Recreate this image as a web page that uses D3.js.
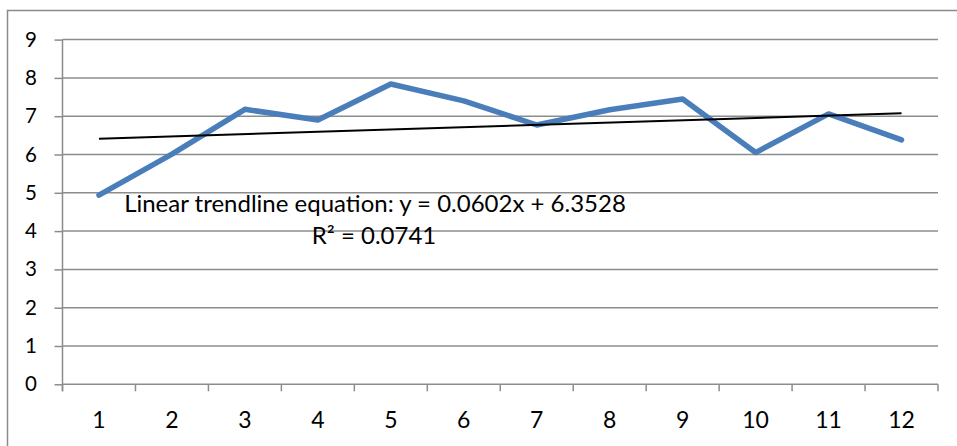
<!DOCTYPE html>
<html>
<head>
<meta charset="utf-8">
<script src="https://cdn.jsdelivr.net/npm/d3@7"></script>
<style>
body{margin:0;background:#fff;}
svg{display:block;font-family:Lato,"Open Sans",sans-serif;}
</style>
</head>
<body>
<div id="chart"></div>
<script>
// values
var categories=[1,2,3,4,5,6,7,8,9,10,11,12];
var values=[4.94,6.01,7.18,6.9,7.84,7.4,6.77,7.17,7.45,6.05,7.06,6.38];
var yTicks=[0,1,2,3,4,5,6,7,8,9];
var slope=0.0602,intercept=6.3528,rSquared=0.0741;

var W=957,H=446;
var margin={top:39.6,right:19,bottom:61.7,left:62.5};

var svg=d3.select("#chart").append("svg")
.attr("width",W).attr("height",H);

// outer frame (only top and left visible)
svg.append("path")
.attr("d","M7.5,"+H+"V10.5H"+W)
.attr("fill","none").attr("stroke","#8a8a8a").attr("stroke-width",1.5);

var x=d3.scaleBand().domain(categories).range([margin.left,W-margin.right]);
var y=d3.scaleLinear().domain([0,9]).range([H-margin.bottom,margin.top]);

// gridlines
svg.append("g").selectAll("line").data(yTicks.filter(function(d){return d>0;})).enter()
.append("line")
.attr("x1",margin.left).attr("x2",W-margin.right)
.attr("y1",function(d){return y(d);}).attr("y2",function(d){return y(d);})
.attr("stroke","#8c8c8c").attr("stroke-width",1.5);

// y axis
var yAxis=svg.append("g")
.attr("transform","translate("+margin.left+",0)")
.call(d3.axisLeft(y).tickValues(yTicks).tickSize(8).tickPadding(17.5).tickFormat(d3.format("d")));
// x axis (ticks at band edges)
var xAxis=svg.append("g")
.attr("transform","translate(0,"+y(0)+")")
.call(d3.axisBottom(x).tickSize(0).tickPadding(27.5));
var edges=categories.map(function(d){return x(d);}).concat([x(12)+x.bandwidth()]);
xAxis.selectAll(".edge").data(edges).enter()
.append("line").attr("class","edge")
.attr("x1",function(d){return d;}).attr("x2",function(d){return d;})
.attr("y1",0).attr("y2",7);

[yAxis,xAxis].forEach(function(a){
a.select(".domain").remove();
a.selectAll("line").attr("stroke","#8c8c8c").attr("stroke-width",1.5);
a.selectAll("text").attr("fill","#000").style("font-family","Lato");
});
yAxis.selectAll("text").style("font-size","20.5px");
xAxis.selectAll("text").style("font-size","23px");

svg.append("line")
.attr("x1",margin.left).attr("x2",margin.left)
.attr("y1",margin.top).attr("y2",y(0)+7)
.attr("stroke","#8c8c8c").attr("stroke-width",1.5);
svg.append("line")
.attr("x1",margin.left).attr("x2",W-margin.right)
.attr("y1",y(0)).attr("y2",y(0))
.attr("stroke","#8c8c8c").attr("stroke-width",1.5);

var cx=function(d){return x(d)+x.bandwidth()/2;};

// series line
svg.append("path")
.datum(values)
.attr("fill","none").attr("stroke","#4a7ebb").attr("stroke-width",5.5)
.attr("stroke-linejoin","round").attr("stroke-linecap","round")
.attr("d",d3.line()
.x(function(d,i){return cx(categories[i]);})
.y(function(d){return y(d);}));

// linear trendline
svg.append("path")
.datum([categories[0],categories[categories.length-1]])
.attr("fill","none").attr("stroke","#000").attr("stroke-width",2)
.attr("d",d3.line()
.x(function(d){return cx(d);})
.y(function(d){return y(slope*d+intercept);}));

// trendline label
var lbl=svg.append("text")
.attr("text-anchor","middle").attr("fill","#000")
.style("font-size","24px").style("font-family","Lato");
lbl.append("tspan").attr("x",375).attr("y",212)
.text("Linear trendline equation: y = "+slope+"x + "+intercept);
lbl.append("tspan").attr("x",374).attr("y",243.5)
.text("R² = "+rSquared);
</script>
</body>
</html>
